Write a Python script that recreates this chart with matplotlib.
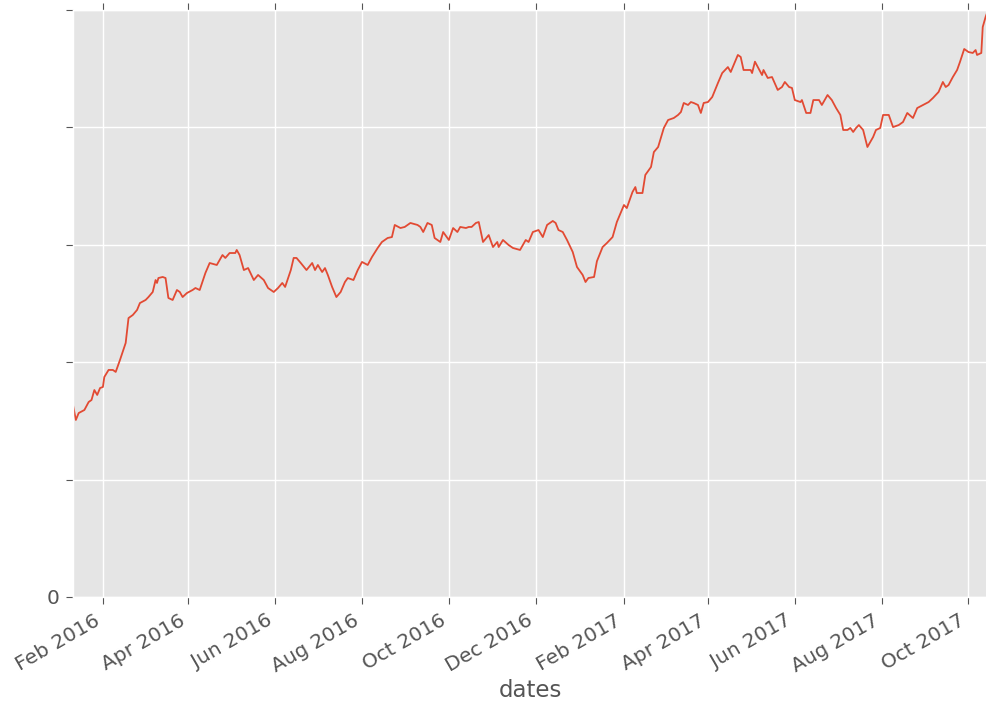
import pandas as pd
import matplotlib
matplotlib.use("Agg")
import matplotlib.pyplot as plt
import matplotlib.dates as mdates

start = pd.Timestamp("2016-01-11")

# days since start
days = [0, 2, 4, 8, 11, 13, 15, 17, 19, 21, 22, 25, 28, 30, 33, 37, 39, 42, 45, 47,
        51, 53, 56, 58, 59, 60, 63, 65, 67, 70, 73, 75, 77, 80, 84, 86, 89, 93, 96, 101,
        105, 107, 110, 114, 115, 117, 120, 123, 127, 130, 134, 137,
        141, 144, 147, 149, 153, 155, 157, 160, 164, 168, 170, 172, 175, 177, 179, 182,
        185, 188, 191, 193, 197, 200, 203, 207, 210, 214, 217, 221, 224, 226, 230, 233,
        237, 242, 244, 246, 249, 252, 254, 258,
        260, 264, 267, 270, 272, 276, 278, 280, 283, 285, 288, 292, 295, 298, 299, 302,
        306, 309, 314, 318, 320, 323, 327, 330, 333, 337, 339, 341, 344, 347, 351, 354,
        358, 360, 362, 366, 368, 372, 375, 379, 382, 387, 389, 393,
        395, 396, 400, 402, 406, 408, 411, 415, 418, 422, 425, 427, 429, 432, 434, 436,
        439, 441, 443, 446, 449, 453, 456, 460, 462, 467, 469, 471, 476, 477, 479, 481,
        484, 485, 488, 491, 495, 498, 500,
        503, 505, 507, 511, 512, 515, 518, 520, 524, 526, 530, 533, 536, 539, 541, 544,
        546, 548, 550, 552, 555, 558, 562, 564, 567, 569, 573, 576, 580, 583, 586, 590,
        593, 597, 601, 604, 606, 608, 611, 613, 615, 618, 621, 623, 626, 629, 632, 634,
        635, 638, 639, 641, 642]

values = [163.5, 150.8, 156.7, 159.3, 166.1, 167.8, 176.3, 172.1, 178.0, 178.9, 187.4, 193.4,
          193.4, 191.7, 201.9, 216.4, 237.6, 240.2, 244.5, 250.4, 253.0, 255.5, 259.8, 270.0,
          267.5, 271.7, 272.6, 271.7, 254.7, 253.0, 261.5, 259.8, 255.5, 258.9, 261.5, 263.2,
          261.5, 276.0, 284.5, 282.8, 291.3, 288.8, 293.0, 293.0, 295.6, 291.3, 278.5, 280.2,
          270.0, 274.3, 270.0, 263.2,
          259.8, 263.2, 267.5, 264.1, 278.5, 288.8, 288.8, 284.5, 278.5, 284.5, 278.5, 282.8,
          276.8, 280.2, 274.3, 264.1, 255.5, 259.8, 268.3, 271.7, 270.0, 278.5, 285.4, 282.8,
          289.6, 297.3, 302.4, 305.8, 306.6, 316.9, 314.3, 315.2, 318.6, 316.9, 315.2, 310.9,
          318.6, 316.9, 305.8, 302.4,
          310.9, 304.1, 314.3, 310.9, 315.2, 314.3, 315.2, 315.2, 318.6, 319.4, 302.4, 308.3,
          298.1, 302.4, 298.1, 304.1, 299.8, 297.3, 295.6, 304.1, 302.4, 310.9, 312.6, 306.6,
          316.9, 320.3, 318.6, 312.6, 310.9, 304.1, 293.9, 281.1, 274.3, 268.3, 271.7, 272.6,
          286.0, 298.1, 301.5, 306.6, 319.4, 333.9, 331.3, 345.0,
          349.2, 344.1, 344.1, 359.5, 366.3, 379.0, 383.3, 399.5, 406.3, 408.0, 410.6, 413.1,
          420.8, 419.1, 421.6, 420.8, 419.1, 412.3, 420.8, 421.6, 425.9, 437.8, 446.3, 451.4,
          447.2, 461.7, 460.0, 448.9, 448.9, 446.3, 456.0, 451.4, 444.6, 448.9, 442.1, 442.9,
          431.9, 434.4, 438.7,
          434.4, 433.6, 423.3, 421.6, 423.3, 412.3, 412.3, 423.3, 423.3, 419.1, 427.6, 423.3,
          416.5, 410.6, 397.8, 397.8, 399.5, 396.1, 399.5, 402.0, 397.8, 383.3, 391.8, 397.8,
          399.5, 410.6, 410.6, 400.3, 402.0, 404.6, 412.3, 408.0, 416.5, 419.1, 421.6, 425.0,
          427.6, 430.2, 438.7, 434.4, 436.1, 442.9, 448.9, 455.7, 466.8, 464.2, 463.4, 465.9,
          461.7, 463.4, 485.5, 494.0, 497.4]

dates = start + pd.to_timedelta(days, unit="D")
s = pd.Series(values, index=dates)

plt.style.use("ggplot")
fig = plt.figure(figsize=(9.87, 7.07), dpi=100)
ax = fig.add_axes([73 / 987, 110 / 707, 914 / 987, 587 / 707])

ax.plot(s.index, s.values, color="#E24A33", linewidth=1.3)
ax.set_xlim(s.index[0], s.index[-1])
ax.set_ylim(0, 500)
ax.set_yticks([0, 100, 200, 300, 400, 500])
ax.set_yticklabels(["0", "", "", "", "", ""])

ax.xaxis.set_major_locator(mdates.MonthLocator(bymonth=[2, 4, 6, 8, 10, 12]))
ax.xaxis.set_major_formatter(mdates.DateFormatter("%b %Y"))
ax.tick_params(axis="both", labelsize=14.5, colors="#555555", top=True, right=True,
               direction="out", length=5, pad=5)
for lbl in ax.get_xticklabels():
    lbl.set_rotation(30)
    lbl.set_ha("right")
ax.set_xlabel("dates", fontsize=16.5, color="#555555", labelpad=2)
ax.grid(True, color="white", linewidth=1)

fig.savefig("out.png", dpi=100)
